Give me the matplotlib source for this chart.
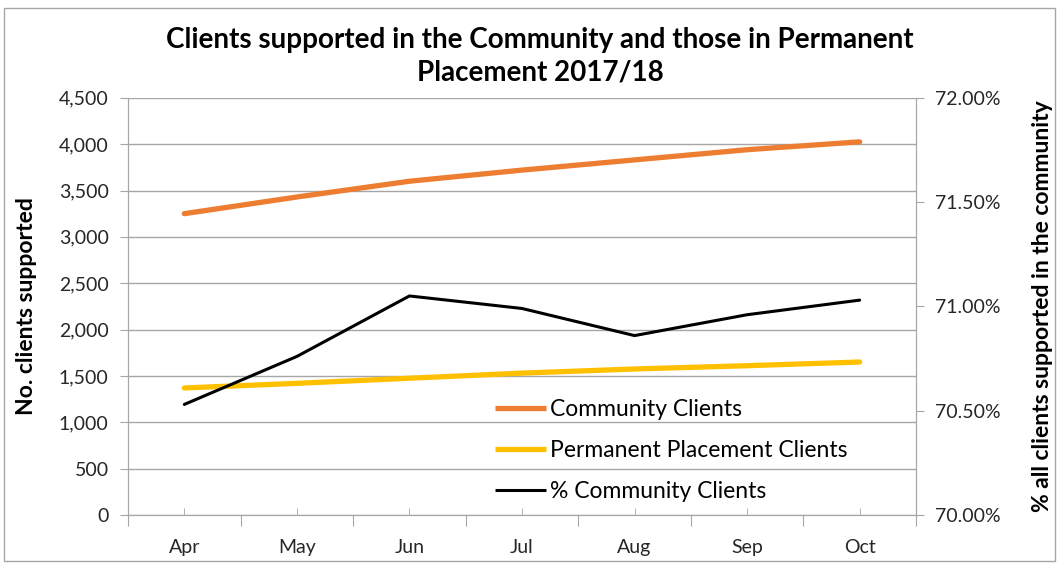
import numpy as np
import matplotlib
matplotlib.use("Agg")
import matplotlib.pyplot as plt
from matplotlib.patches import Rectangle
from matplotlib.ticker import FuncFormatter, FixedLocator

months = ["Apr", "May", "Jun", "Jul", "Aug", "Sep", "Oct"]
community = [3250, 3430, 3600, 3720, 3830, 3940, 4025]
permanent = [1370, 1420, 1475, 1530, 1575, 1610, 1650]
pct_community = [70.53, 70.76, 71.05, 70.99, 70.86, 70.96, 71.03]

plt.rcParams['font.family'] = ['Lato', 'DejaVu Sans']

fig = plt.figure(figsize=(10.59, 5.63), dpi=100)
fig.patches.append(Rectangle((0.004, 0.004), 0.992, 0.982, transform=fig.transFigure,
                             fill=False, edgecolor='#a6a6a6', linewidth=1))

ax = fig.add_axes([0.1209, 0.0853, 0.744, 0.741])
ax2 = ax.twinx()

x = np.arange(len(months))
grid_col = '#a6a6a6'

l1, = ax.plot(x, community, color='#ED7D31', linewidth=3.8, solid_capstyle='round',
              label='Community Clients')
l2, = ax.plot(x, permanent, color='#FFC000', linewidth=3.8, solid_capstyle='round',
              label='Permanent Placement Clients')
l3, = ax2.plot(x, pct_community, color='black', linewidth=2.2, solid_capstyle='round',
               label='% Community Clients')

ax.set_xlim(-0.5, len(months) - 0.5)
ax.set_ylim(0, 4500)
ax.set_yticks(np.arange(0, 4501, 500))
ax.yaxis.set_major_formatter(FuncFormatter(lambda v, p: f"{int(v):,}"))
ax.grid(axis='y', color=grid_col, linewidth=1)
ax.set_axisbelow(True)

ax2.set_ylim(70.0, 72.0)
ax2.set_yticks(np.arange(70.0, 72.01, 0.5))
ax2.yaxis.set_major_formatter(FuncFormatter(lambda v, p: f"{v:.2f}%"))

# category labels at the points, tick marks on the boundaries
ax.xaxis.set_major_locator(FixedLocator(np.arange(-0.5, len(months), 1.0)))
ax.set_xticklabels([])
ax.set_xticks(x, minor=True)
ax.set_xticklabels(months, minor=True)
ax.tick_params(axis='x', which='major', length=8, color=grid_col, direction='out')
ax.tick_params(axis='x', which='minor', length=5, color=grid_col, direction='in',
               labelsize=14, pad=17, labelcolor='#262626')

ax.tick_params(axis='y', length=6, color=grid_col, labelsize=14, pad=8, labelcolor='#262626')
ax2.tick_params(axis='y', length=6, color=grid_col, labelsize=14, pad=8, labelcolor='#262626')

for a in (ax, ax2):
    for s in a.spines.values():
        s.set_color(grid_col)
    a.spines['top'].set_visible(False)

ax.set_ylabel("No. clients supported", fontsize=16.5, fontweight='bold')
ax.yaxis.set_label_coords(-0.116, 0.5)
ax2.set_ylabel("% all clients supported in the community", fontsize=16.5, fontweight='bold',
               rotation=90)
ax2.yaxis.set_label_coords(1.147, 0.5)

fig.text(0.51, 0.9, "Clients supported in the Community and those in Permanent\nPlacement 2017/18",
         ha='center', va='center', fontsize=20, fontweight='bold', linespacing=1.33)

leg = ax.legend(handles=[l1, l2, l3], loc='lower left', bbox_to_anchor=(0.44, -0.018),
                frameon=False, fontsize=16.5, handlelength=2.2, handletextpad=0.2,
                labelspacing=0.88)
for line in leg.get_lines():
    line.set_solid_capstyle('butt')

fig.savefig("out.png", dpi=100)
